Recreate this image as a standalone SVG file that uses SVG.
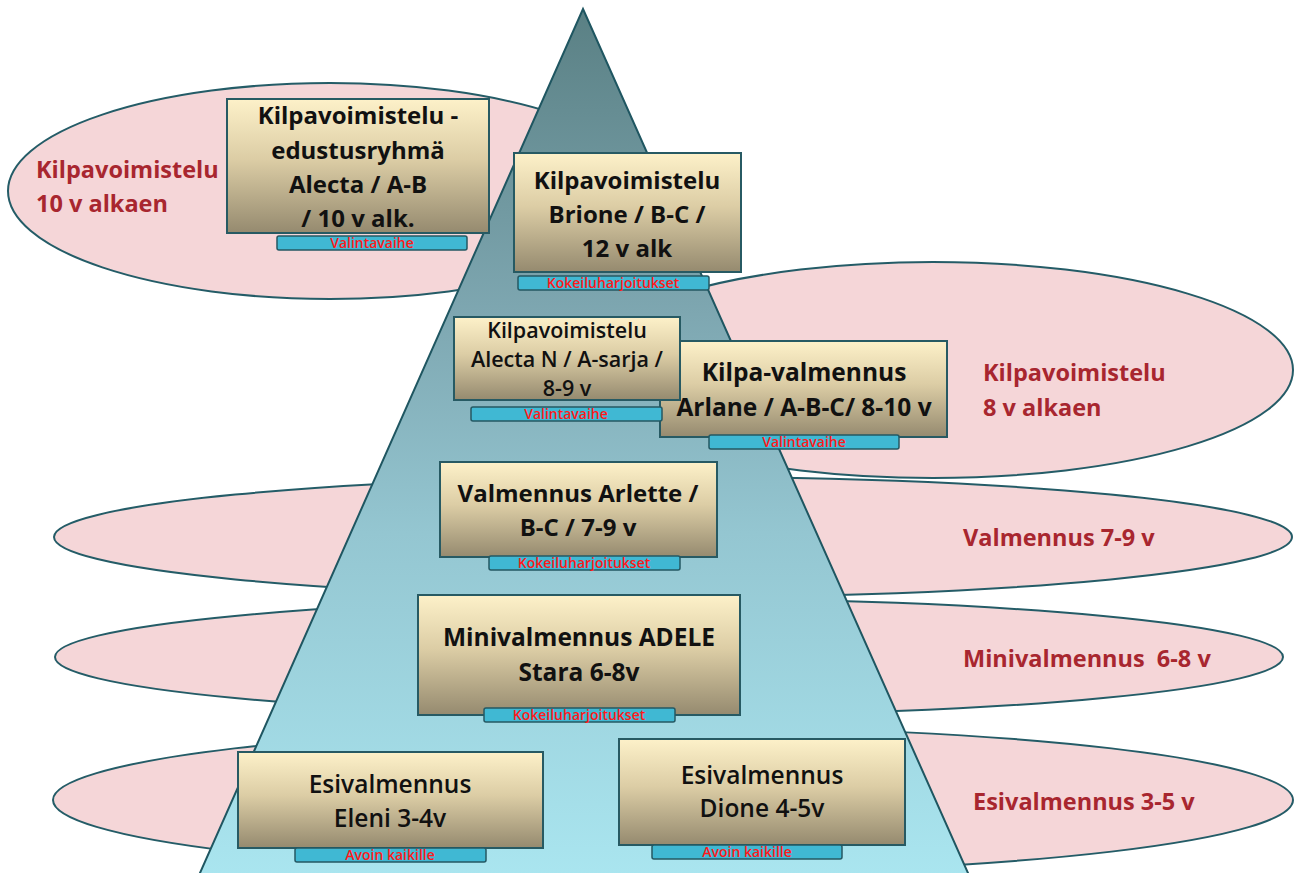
<svg xmlns="http://www.w3.org/2000/svg" width="1294" height="873" viewBox="0 0 1294 873">
<defs>
  <linearGradient id="tri" x1="0" y1="0" x2="0" y2="1">
    <stop offset="0" stop-color="#5a8084"/>
    <stop offset="0.35" stop-color="#7ea7b1"/>
    <stop offset="0.6" stop-color="#94c6d1"/>
    <stop offset="1" stop-color="#aae6f0"/>
  </linearGradient>
  <linearGradient id="box" x1="0" y1="0" x2="0" y2="1">
    <stop offset="0" stop-color="#fdf1c9"/>
    <stop offset="0.45" stop-color="#dccda5"/>
    <stop offset="1" stop-color="#958a6f"/>
  </linearGradient>
  <style>
    .ell{fill:#f5d6d8;stroke:#245c67;stroke-width:2}
    .tri{fill:url(#tri);stroke:#1f5661;stroke-width:2}
    .box{fill:url(#box);stroke:#275a63;stroke-width:2}
    .bar{fill:#40b8d3;stroke:#245863;stroke-width:1.5}
    .t{font-family:"Open Sans","Noto Sans",sans-serif;font-weight:700;fill:#111;text-anchor:middle}
    .ts{font-family:"Open Sans","Noto Sans",sans-serif;font-weight:600;fill:#111;text-anchor:middle}
    .bt{font-family:"Open Sans","Noto Sans",sans-serif;font-weight:600;font-size:14px;fill:#ff1a1a;text-anchor:middle}
    .el{font-family:"Open Sans","Noto Sans",sans-serif;font-weight:700;font-size:23.5px;fill:#a8262f}
  </style>
</defs>
<g id="ellipses">
  <ellipse id="ell-kilpa10" class="ell" cx="330" cy="191" rx="322" ry="108"/>
  <ellipse id="ell-kilpa8" class="ell" cx="933" cy="370" rx="360" ry="108"/>
  <ellipse id="ell-valm" class="ell" cx="673" cy="537" rx="619" ry="60"/>
  <ellipse id="ell-mini" class="ell" cx="669" cy="657" rx="614" ry="58"/>
  <ellipse id="ell-esi" class="ell" cx="673" cy="800" rx="620" ry="73"/>
</g>
<g id="pyramid">
  <polygon class="tri" points="583,9 972,882 196,882"/>
</g>
<g id="ellipse-labels">
  <text class="el" x="36" y="178">Kilpavoimistelu</text>
  <text class="el" x="36" y="212">10 v alkaen</text>
  <text class="el" x="983" y="381">Kilpavoimistelu</text>
  <text class="el" x="983" y="416">8 v alkaen</text>
  <text class="el" x="963" y="546">Valmennus 7-9 v</text>
  <text class="el" x="963" y="667" xml:space="preserve">Minivalmennus  6-8 v</text>
  <text class="el" x="973" y="810">Esivalmennus 3-5 v</text>
</g>
<g id="node-alecta-edustus">
  <rect class="box" x="227" y="99" width="262" height="134"/>
  <text class="t" font-size="24" x="358" y="124">Kilpavoimistelu -</text>
  <text class="t" font-size="24" x="358" y="159">edustusryhmä</text>
  <text class="t" font-size="24" x="358" y="193">Alecta / A-B</text>
  <text class="t" font-size="24" x="358" y="227">/ 10 v alk.</text>
  <rect class="bar" x="277" y="236" width="190" height="14" rx="2"/>
  <text class="bt" x="372" y="248">Valintavaihe</text>
</g>
<g id="node-brione">
  <rect class="box" x="514" y="153" width="227" height="119"/>
  <text class="t" font-size="24" x="627" y="189">Kilpavoimistelu</text>
  <text class="t" font-size="24" x="627" y="223">Brione / B-C /</text>
  <text class="t" font-size="24" x="627" y="257">12 v alk</text>
  <rect class="bar" x="518" y="276" width="191" height="14" rx="2"/>
  <text class="bt" x="613" y="288">Kokeiluharjoitukset</text>
</g>
<g id="node-arlane">
  <rect class="box" x="660" y="341" width="287" height="96"/>
  <text class="t" font-size="24.5" x="804" y="381">Kilpa-valmennus</text>
  <text class="t" font-size="24.5" x="804" y="416">Arlane / A-B-C/ 8-10 v</text>
  <rect class="bar" x="709" y="435" width="190" height="14" rx="2"/>
  <text class="bt" x="804" y="447">Valintavaihe</text>
</g>
<g id="node-alecta-n">
  <rect class="box" x="454" y="317" width="226" height="83"/>
  <text class="ts" font-size="21.5" x="567" y="338">Kilpavoimistelu</text>
  <text class="ts" font-size="21.5" x="567" y="367">Alecta N / A-sarja /</text>
  <text class="ts" font-size="21.5" x="567" y="396">8-9 v</text>
  <rect class="bar" x="471" y="407" width="191" height="14" rx="2"/>
  <text class="bt" x="566" y="419">Valintavaihe</text>
</g>
<g id="node-arlette">
  <rect class="box" x="440" y="462" width="277" height="95"/>
  <text class="t" font-size="24" x="578" y="502">Valmennus Arlette /</text>
  <text class="t" font-size="24" x="578" y="536">B-C / 7-9 v</text>
  <rect class="bar" x="489" y="556" width="191" height="14" rx="2"/>
  <text class="bt" x="584" y="568">Kokeiluharjoitukset</text>
</g>
<g id="node-adele">
  <rect class="box" x="418" y="595" width="322" height="120"/>
  <text class="t" font-size="24.5" x="579" y="646">Minivalmennus ADELE</text>
  <text class="t" font-size="24.5" x="579" y="681">Stara 6-8v</text>
  <rect class="bar" x="484" y="708" width="191" height="14" rx="2"/>
  <text class="bt" x="579" y="720">Kokeiluharjoitukset</text>
</g>
<g id="node-eleni">
  <rect class="box" x="238" y="752" width="305" height="96"/>
  <text class="ts" font-size="24.5" x="390" y="793">Esivalmennus</text>
  <text class="ts" font-size="24.5" x="390" y="827">Eleni 3-4v</text>
  <rect class="bar" x="295" y="848" width="191" height="14" rx="2"/>
  <text class="bt" x="390" y="860">Avoin kaikille</text>
</g>
<g id="node-dione">
  <rect class="box" x="619" y="739" width="286" height="106"/>
  <text class="ts" font-size="24.5" x="762" y="784">Esivalmennus</text>
  <text class="ts" font-size="24.5" x="762" y="817">Dione 4-5v</text>
  <rect class="bar" x="652" y="845" width="190" height="14" rx="2"/>
  <text class="bt" x="747" y="857">Avoin kaikille</text>
</g>
</svg>
